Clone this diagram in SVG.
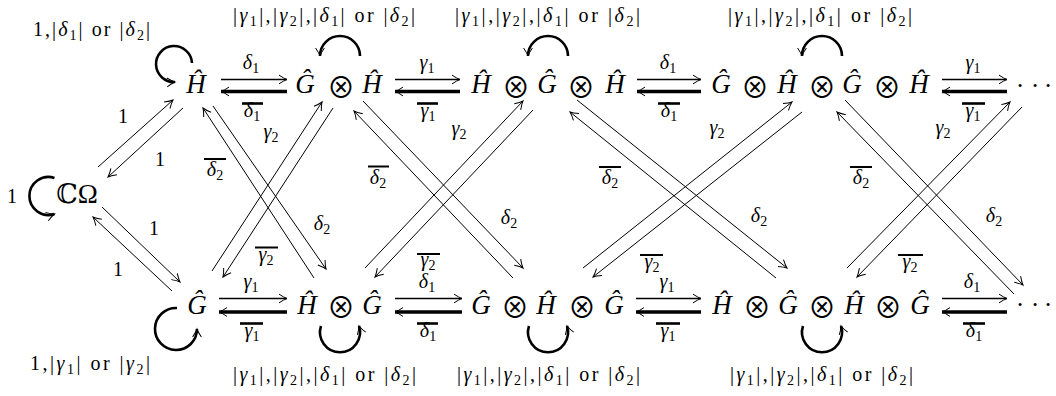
<svg xmlns="http://www.w3.org/2000/svg" width="1056" height="396" viewBox="0 0 1056 396">
<style>
.m{font-family:"Liberation Serif","DejaVu Serif",serif;font-size:20px;fill:#000}
.i{font-style:italic}
.s{font-size:14px}
.n{font-family:"Liberation Serif","DejaVu Serif",serif;font-size:27px;font-style:italic;fill:#000}
.o{font-family:"Noto Sans CJK JP","DejaVu Sans",sans-serif;font-size:28px;fill:#000}
.u{font-family:"Liberation Serif","DejaVu Serif","DejaVu Sans",serif;font-size:27px;fill:#000}
.d{font-family:"Liberation Serif",serif;font-size:26px;fill:#000}
.t{fill:none;stroke:#000;stroke-width:1;marker-end:url(#ah)}
.hu{fill:none;stroke:#000;stroke-width:1.6;marker-end:url(#ah)}
.hl{fill:none;stroke:#000;stroke-width:3.4;marker-end:url(#ah)}
.k{fill:none;stroke:#000;stroke-width:2.6;marker-end:url(#ah)}
.ol{stroke:#000;stroke-width:2.6}
.ot{stroke:#000;stroke-width:2}
</style>
<defs>
<marker id="ah" markerUnits="userSpaceOnUse" markerWidth="14" markerHeight="14" refX="11" refY="7" orient="auto" overflow="visible">
<path d="M3,2.6 Q8,6 11,7 Q8,8 3,11.4" fill="none" stroke="#000" stroke-width="1"/>
</marker>
</defs>

<g id="connectors">
<path class="t" d="M98,167 L173,100"/>
<path class="t" d="M183,108 L108,177"/>
<path class="t" d="M102,207 L180,282"/>
<path class="t" d="M172,291 L93,217"/>
<path class="t" d="M213,106 L326,269"/>
<path class="t" d="M314,278 L203,108"/>
<path class="t" d="M212,271 L322,102"/>
<path class="t" d="M333,108 L223,277"/>
<path class="t" d="M363,101 L523,268"/>
<path class="t" d="M513,278 L354,111"/>
<path class="t" d="M365,268 L523,101"/>
<path class="t" d="M533,110 L375,277"/>
<path class="t" d="M577,100 L787,268"/>
<path class="t" d="M776,278 L570,112"/>
<path class="t" d="M583,268 L792,102"/>
<path class="t" d="M802,112 L593,277"/>
<path class="t" d="M845,100 L1023,285"/>
<path class="t" d="M1014,294 L837,112"/>
<path class="t" d="M847,268 L1010,102"/>
<path class="t" d="M1022,107 L857,277"/>
<path class="hu" d="M221,79.5 H287"/><path class="hl" d="M287,91.5 H221"/>
<path class="hu" d="M395,79.5 H460"/><path class="hl" d="M460,91.5 H395"/>
<path class="hu" d="M637,79.5 H701"/><path class="hl" d="M701,91.5 H637"/>
<path class="hu" d="M942,79.5 H1007"/><path class="hl" d="M1007,91.5 H942"/>
<path class="hu" d="M219,298.5 H287"/><path class="hl" d="M287,312 H219"/>
<path class="hu" d="M395,298.5 H462"/><path class="hl" d="M462,312 H395"/>
<path class="hu" d="M636,298.5 H701"/><path class="hl" d="M701,312 H636"/>
<path class="hu" d="M942,298.5 H1007"/><path class="hl" d="M1007,312 H942"/>
<path class="k" d="M192,63 A18,18 0 1,0 175,82"/>
<path class="k" d="M360,56 A20,20 0 0,0 320,56"/>
<path class="k" d="M568,56 A20,20 0 0,0 528,56"/>
<path class="k" d="M842,56 A20,20 0 0,0 802,56"/>
<path class="k" d="M177,308 A21,21 0 1,0 197,329"/>
<path class="k" d="M321,326 A20,20 0 1,0 359,326"/>
<path class="k" d="M529,326 A20,20 0 1,0 567,326"/>
<path class="k" d="M803,326 A20,20 0 1,0 841,326"/>
<path class="k" d="M54.5,178 A19,19 0 1,0 54.5,214"/>
</g>

<g id="labels">
<text class="m" x="123" y="123" text-anchor="middle">1</text>
<text class="m" x="160" y="166" text-anchor="middle">1</text>
<text class="m" x="154" y="235" text-anchor="middle">1</text>
<text class="m" x="118" y="276" text-anchor="middle">1</text>
<text class="m" x="12" y="203" text-anchor="middle">1</text>
<text class="m" x="251" y="69" text-anchor="middle"><tspan class="i">δ</tspan><tspan class="s" dy="4">1</tspan></text>
<text class="m" x="427" y="69" text-anchor="middle"><tspan class="i">γ</tspan><tspan class="s" dy="4">1</tspan></text>
<text class="m" x="668" y="69" text-anchor="middle"><tspan class="i">δ</tspan><tspan class="s" dy="4">1</tspan></text>
<text class="m" x="973" y="69" text-anchor="middle"><tspan class="i">γ</tspan><tspan class="s" dy="4">1</tspan></text>
<text class="m" x="252" y="117" text-anchor="middle"><tspan class="i">δ</tspan><tspan class="s" dy="4">1</tspan></text>
<line class="ol" x1="242" y1="103.5" x2="263" y2="103.5"/>
<text class="m" x="428" y="117" text-anchor="middle"><tspan class="i">γ</tspan><tspan class="s" dy="4">1</tspan></text>
<line class="ol" x1="417" y1="103.5" x2="438" y2="103.5"/>
<text class="m" x="669" y="117" text-anchor="middle"><tspan class="i">δ</tspan><tspan class="s" dy="4">1</tspan></text>
<line class="ol" x1="658" y1="103.5" x2="680" y2="103.5"/>
<text class="m" x="973" y="117" text-anchor="middle"><tspan class="i">γ</tspan><tspan class="s" dy="4">1</tspan></text>
<line class="ol" x1="962" y1="103.5" x2="985" y2="103.5"/>
<text class="m" x="251" y="288" text-anchor="middle"><tspan class="i">γ</tspan><tspan class="s" dy="4">1</tspan></text>
<text class="m" x="427" y="288" text-anchor="middle"><tspan class="i">δ</tspan><tspan class="s" dy="4">1</tspan></text>
<text class="m" x="667" y="288" text-anchor="middle"><tspan class="i">γ</tspan><tspan class="s" dy="4">1</tspan></text>
<text class="m" x="972" y="288" text-anchor="middle"><tspan class="i">δ</tspan><tspan class="s" dy="4">1</tspan></text>
<text class="m" x="252" y="337" text-anchor="middle"><tspan class="i">γ</tspan><tspan class="s" dy="4">1</tspan></text>
<line class="ol" x1="240" y1="323.5" x2="263" y2="323.5"/>
<text class="m" x="428" y="337" text-anchor="middle"><tspan class="i">δ</tspan><tspan class="s" dy="4">1</tspan></text>
<line class="ol" x1="417" y1="323.5" x2="438" y2="323.5"/>
<text class="m" x="668" y="337" text-anchor="middle"><tspan class="i">γ</tspan><tspan class="s" dy="4">1</tspan></text>
<line class="ol" x1="656" y1="323.5" x2="680" y2="323.5"/>
<text class="m" x="974" y="337" text-anchor="middle"><tspan class="i">δ</tspan><tspan class="s" dy="4">1</tspan></text>
<line class="ol" x1="963" y1="323.5" x2="985" y2="323.5"/>
<text class="m" x="322" y="230" text-anchor="middle"><tspan class="i">δ</tspan><tspan class="s" dy="4">2</tspan></text>
<text class="m" x="271" y="138" text-anchor="middle"><tspan class="i">γ</tspan><tspan class="s" dy="4">2</tspan></text>
<text class="m" x="215" y="176" text-anchor="middle"><tspan class="i">δ</tspan><tspan class="s" dy="4">2</tspan></text>
<line class="ot" x1="204" y1="159" x2="226" y2="159"/>
<text class="m" x="266" y="261" text-anchor="middle"><tspan class="i">γ</tspan><tspan class="s" dy="4">2</tspan></text>
<line class="ot" x1="255" y1="247.5" x2="278" y2="247.5"/>
<text class="m" x="509" y="224" text-anchor="middle"><tspan class="i">δ</tspan><tspan class="s" dy="4">2</tspan></text>
<text class="m" x="459" y="135" text-anchor="middle"><tspan class="i">γ</tspan><tspan class="s" dy="4">2</tspan></text>
<text class="m" x="378" y="184" text-anchor="middle"><tspan class="i">δ</tspan><tspan class="s" dy="4">2</tspan></text>
<line class="ot" x1="368" y1="166.5" x2="389" y2="166.5"/>
<text class="m" x="428" y="266" text-anchor="middle"><tspan class="i">γ</tspan><tspan class="s" dy="4">2</tspan></text>
<line class="ot" x1="417" y1="254" x2="440" y2="254"/>
<text class="m" x="759" y="222" text-anchor="middle"><tspan class="i">δ</tspan><tspan class="s" dy="4">2</tspan></text>
<text class="m" x="717" y="134" text-anchor="middle"><tspan class="i">γ</tspan><tspan class="s" dy="4">2</tspan></text>
<text class="m" x="610" y="184" text-anchor="middle"><tspan class="i">δ</tspan><tspan class="s" dy="4">2</tspan></text>
<line class="ot" x1="599" y1="167" x2="621" y2="167"/>
<text class="m" x="652" y="268" text-anchor="middle"><tspan class="i">γ</tspan><tspan class="s" dy="4">2</tspan></text>
<line class="ot" x1="640" y1="255" x2="663" y2="255"/>
<text class="m" x="994" y="222" text-anchor="middle"><tspan class="i">δ</tspan><tspan class="s" dy="4">2</tspan></text>
<text class="m" x="943" y="134" text-anchor="middle"><tspan class="i">γ</tspan><tspan class="s" dy="4">2</tspan></text>
<text class="m" x="861" y="184" text-anchor="middle"><tspan class="i">δ</tspan><tspan class="s" dy="4">2</tspan></text>
<line class="ot" x1="850" y1="167" x2="872" y2="167"/>
<text class="m" x="910" y="268" text-anchor="middle"><tspan class="i">γ</tspan><tspan class="s" dy="4">2</tspan></text>
<line class="ot" x1="898" y1="255" x2="923" y2="255"/>
<text class="m" x="33" y="36" textLength="117">1,|<tspan class="i">δ</tspan><tspan class="s" dy="4">1</tspan><tspan dy="-4">| or |</tspan><tspan class="i">δ</tspan><tspan class="s" dy="4">2</tspan><tspan dy="-4">|</tspan></text>
<text class="m" x="30" y="370" textLength="120">1,|<tspan class="i">γ</tspan><tspan class="s" dy="4">1</tspan><tspan dy="-4">| or |</tspan><tspan class="i">γ</tspan><tspan class="s" dy="4">2</tspan><tspan dy="-4">|</tspan></text>
<text class="m" x="233" y="22" textLength="182">|<tspan class="i">γ</tspan><tspan class="s" dy="4">1</tspan><tspan dy="-4">|,|</tspan><tspan class="i">γ</tspan><tspan class="s" dy="4">2</tspan><tspan dy="-4">|,|</tspan><tspan class="i">δ</tspan><tspan class="s" dy="4">1</tspan><tspan dy="-4">| or |</tspan><tspan class="i">δ</tspan><tspan class="s" dy="4">2</tspan><tspan dy="-4">|</tspan></text>
<text class="m" x="455" y="22" textLength="185">|<tspan class="i">γ</tspan><tspan class="s" dy="4">1</tspan><tspan dy="-4">|,|</tspan><tspan class="i">γ</tspan><tspan class="s" dy="4">2</tspan><tspan dy="-4">|,|</tspan><tspan class="i">δ</tspan><tspan class="s" dy="4">1</tspan><tspan dy="-4">| or |</tspan><tspan class="i">δ</tspan><tspan class="s" dy="4">2</tspan><tspan dy="-4">|</tspan></text>
<text class="m" x="728" y="22" textLength="184">|<tspan class="i">γ</tspan><tspan class="s" dy="4">1</tspan><tspan dy="-4">|,|</tspan><tspan class="i">γ</tspan><tspan class="s" dy="4">2</tspan><tspan dy="-4">|,|</tspan><tspan class="i">δ</tspan><tspan class="s" dy="4">1</tspan><tspan dy="-4">| or |</tspan><tspan class="i">δ</tspan><tspan class="s" dy="4">2</tspan><tspan dy="-4">|</tspan></text>
<text class="m" x="233" y="381" textLength="183">|<tspan class="i">γ</tspan><tspan class="s" dy="4">1</tspan><tspan dy="-4">|,|</tspan><tspan class="i">γ</tspan><tspan class="s" dy="4">2</tspan><tspan dy="-4">|,|</tspan><tspan class="i">δ</tspan><tspan class="s" dy="4">1</tspan><tspan dy="-4">| or |</tspan><tspan class="i">δ</tspan><tspan class="s" dy="4">2</tspan><tspan dy="-4">|</tspan></text>
<text class="m" x="457" y="381" textLength="183">|<tspan class="i">γ</tspan><tspan class="s" dy="4">1</tspan><tspan dy="-4">|,|</tspan><tspan class="i">γ</tspan><tspan class="s" dy="4">2</tspan><tspan dy="-4">|,|</tspan><tspan class="i">δ</tspan><tspan class="s" dy="4">1</tspan><tspan dy="-4">| or |</tspan><tspan class="i">δ</tspan><tspan class="s" dy="4">2</tspan><tspan dy="-4">|</tspan></text>
<text class="m" x="730" y="381" textLength="183">|<tspan class="i">γ</tspan><tspan class="s" dy="4">1</tspan><tspan dy="-4">|,|</tspan><tspan class="i">γ</tspan><tspan class="s" dy="4">2</tspan><tspan dy="-4">|,|</tspan><tspan class="i">δ</tspan><tspan class="s" dy="4">1</tspan><tspan dy="-4">| or |</tspan><tspan class="i">δ</tspan><tspan class="s" dy="4">2</tspan><tspan dy="-4">|</tspan></text>
</g>

<g id="n-omega"><text class="u" x="77" y="203" text-anchor="middle">ℂΩ</text></g>
<g id="n-top1"><text class="n" x="196" y="93" text-anchor="middle">Ĥ</text></g>
<g id="n-top2">
<text class="n" x="305" y="93" text-anchor="middle">Ĝ</text><text class="o" x="341" y="97.5" text-anchor="middle">⊗</text><text class="n" x="372" y="93" text-anchor="middle">Ĥ</text>
</g>
<g id="n-top3">
<text class="n" x="481" y="93" text-anchor="middle">Ĥ</text><text class="o" x="516" y="97.5" text-anchor="middle">⊗</text><text class="n" x="547" y="93" text-anchor="middle">Ĝ</text><text class="o" x="581" y="97.5" text-anchor="middle">⊗</text><text class="n" x="615" y="93" text-anchor="middle">Ĥ</text>
</g>
<g id="n-top4">
<text class="n" x="721" y="93" text-anchor="middle">Ĝ</text><text class="o" x="755" y="97.5" text-anchor="middle">⊗</text><text class="n" x="787" y="93" text-anchor="middle">Ĥ</text><text class="o" x="822" y="97.5" text-anchor="middle">⊗</text><text class="n" x="852" y="93" text-anchor="middle">Ĝ</text><text class="o" x="887" y="97.5" text-anchor="middle">⊗</text><text class="n" x="919" y="93" text-anchor="middle">Ĥ</text>
</g>
<g id="n-top5"><text class="d" y="94" text-anchor="middle"><tspan x="1020">·</tspan><tspan x="1035">·</tspan><tspan x="1048">·</tspan></text></g>

<g id="n-bot1"><text class="n" x="197" y="314" text-anchor="middle">Ĝ</text></g>
<g id="n-bot2">
<text class="n" x="307" y="314" text-anchor="middle">Ĥ</text><text class="o" x="341" y="317.5" text-anchor="middle">⊗</text><text class="n" x="372" y="314" text-anchor="middle">Ĝ</text>
</g>
<g id="n-bot3">
<text class="n" x="481" y="314" text-anchor="middle">Ĝ</text><text class="o" x="515" y="317.5" text-anchor="middle">⊗</text><text class="n" x="546" y="314" text-anchor="middle">Ĥ</text><text class="o" x="582" y="317.5" text-anchor="middle">⊗</text><text class="n" x="614" y="314" text-anchor="middle">Ĝ</text>
</g>
<g id="n-bot4">
<text class="n" x="722" y="314" text-anchor="middle">Ĥ</text><text class="o" x="757" y="317.5" text-anchor="middle">⊗</text><text class="n" x="788" y="314" text-anchor="middle">Ĝ</text><text class="o" x="822" y="317.5" text-anchor="middle">⊗</text><text class="n" x="854" y="314" text-anchor="middle">Ĥ</text><text class="o" x="888" y="317.5" text-anchor="middle">⊗</text><text class="n" x="920" y="314" text-anchor="middle">Ĝ</text>
</g>
<g id="n-bot5"><text class="d" y="313" text-anchor="middle"><tspan x="1020">·</tspan><tspan x="1035">·</tspan><tspan x="1048">·</tspan></text></g>
</svg>
